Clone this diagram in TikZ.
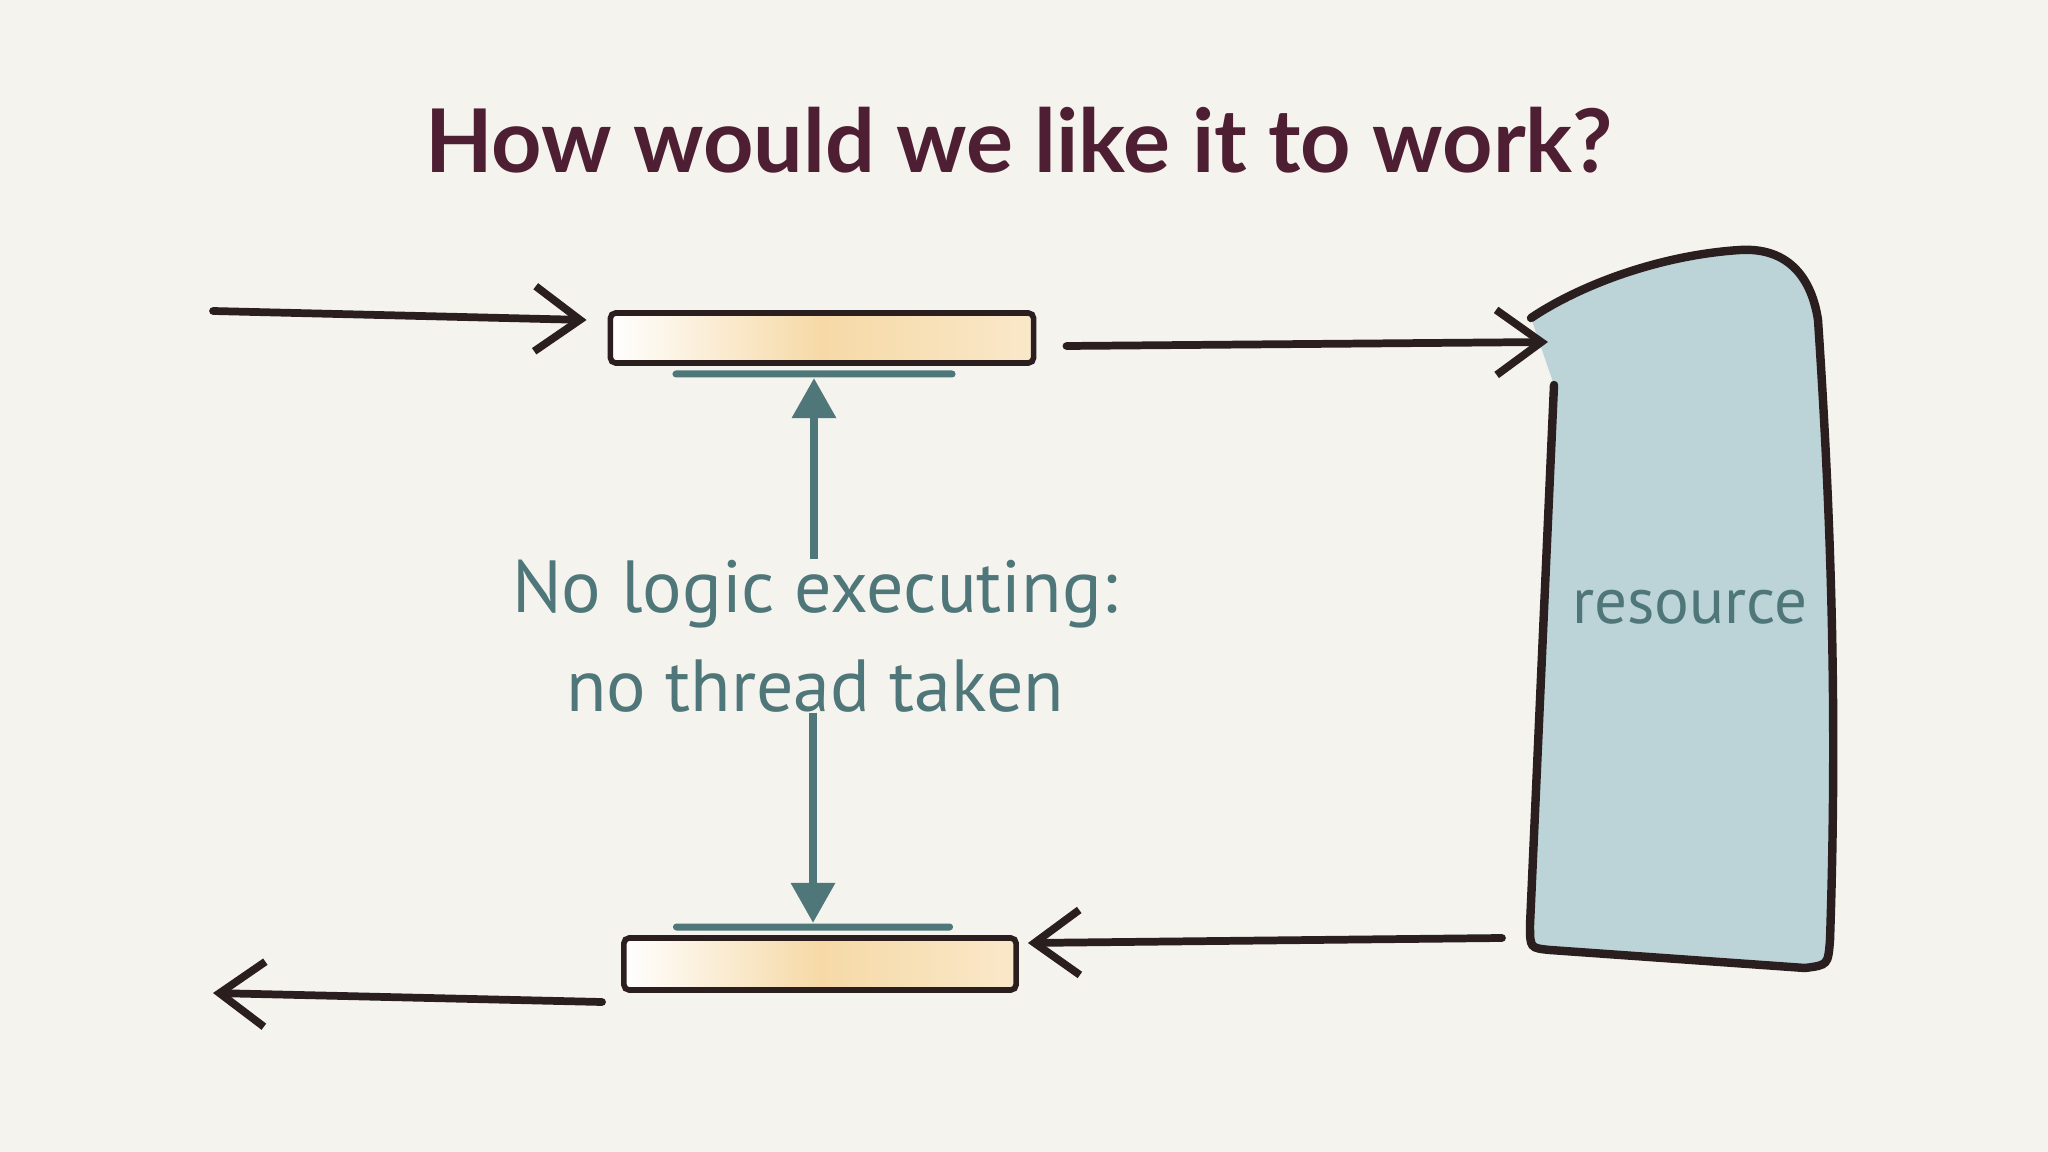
\documentclass[tikz,border=0pt]{standalone}
\usepackage{fontspec}
\setmainfont{Lato}
\newfontfamily\notefont{PT Sans}
\usetikzlibrary{arrows.meta,positioning}
\definecolor{paper}{HTML}{F4F3EE}
\definecolor{titlec}{HTML}{4E1F33}
\definecolor{inkc}{HTML}{2A1E1E}
\definecolor{tealc}{HTML}{4F7679}
\definecolor{barc}{HTML}{F6D9A6}
\definecolor{resc}{HTML}{BCD3D8}
\tikzset{
  ink/.style={draw=inkc, line width=2.2pt, line cap=round},
  flow/.style={ink, -{Straight Barb[length=4.5mm,width=6.5mm]}},
  slot/.style={draw=inkc, line width=1.6pt, rounded corners=1.5pt, left color=white, right color=barc!60, middle color=barc, inner sep=0pt},
  gate/.style={fill=tealc, minimum height=0.07cm, inner sep=0pt, rounded corners=0.035cm},
  poke/.style={draw=tealc, line width=2pt, -{Triangle[length=4mm,width=4.3mm]}},
  note/.style={text=tealc, font=\notefont\fontsize{21}{28}\selectfont, align=center, inner sep=0pt},
}
\begin{document}
\begin{tikzpicture}[x=0.01cm,y=-0.01cm]
  \useasboundingbox (0,0) rectangle (2048,1152);
  \fill[paper] (0,0) rectangle (2048,1152);

  \node (title) at (1019,140) {\fontsize{25}{30}\selectfont\bfseries\color{titlec}How would we like it to work?};

  % slots
  \node (inbar) [slot, minimum width=4.23cm, minimum height=0.5cm] at (822,338) {};
  \node (outbar) [slot, minimum width=3.92cm, minimum height=0.52cm] at (820,964) {};
  \node (gateA) [gate, minimum width=2.83cm] at (814,374) {};
  \node (gateB) [gate, minimum width=2.8cm] at (813,927) {};

  \node (lbl) [note] at (815,636) {No logic executing:\\no thread taken};

  \draw[poke] (lbl.north -| gateA.south) -- (gateA.south);
  \draw[poke] (lbl.south -| gateB.north) -- (gateB.north);

  % resource
  \fill[resc] (1531,318) .. controls (1580,285) and (1660,255) .. (1740,250)
    .. controls (1790,247) and (1812,280) .. (1818,320)
    .. controls (1830,500) and (1838,700) .. (1830,940)
    .. controls (1828,965) .. (1805,968) -- (1550,950)
    .. controls (1530,948) .. (1530,925) -- (1554,385) -- cycle;
  \draw[ink, line width=2.4pt] (1531,318) .. controls (1580,285) and (1660,255) .. (1740,250)
    .. controls (1790,247) and (1812,280) .. (1818,320)
    .. controls (1830,500) and (1838,700) .. (1830,940)
    .. controls (1828,965) .. (1805,968) -- (1550,950)
    .. controls (1530,948) .. (1530,925) -- (1554,385);
  \node (res) [note, font=\notefont\fontsize{18.5}{20}\selectfont] at (1690,607) {resource};

  \coordinate (inq) at (213,311);
  \coordinate (resin) at (1548,342);
  \coordinate (resout) at (1502,938);
  \coordinate (outq) at (213,993);

  \draw[flow] (inq) -- ([shift={(-21,-18)}]inbar.west);
  \draw[flow] ([shift={(30,8)}]inbar.east) -- (resin);
  \draw[flow] (resout) -- ([shift={(9,-21)}]outbar.east);
  \draw[flow] ([shift={(-19,38)}]outbar.west) -- (outq);
\end{tikzpicture}
\end{document}
